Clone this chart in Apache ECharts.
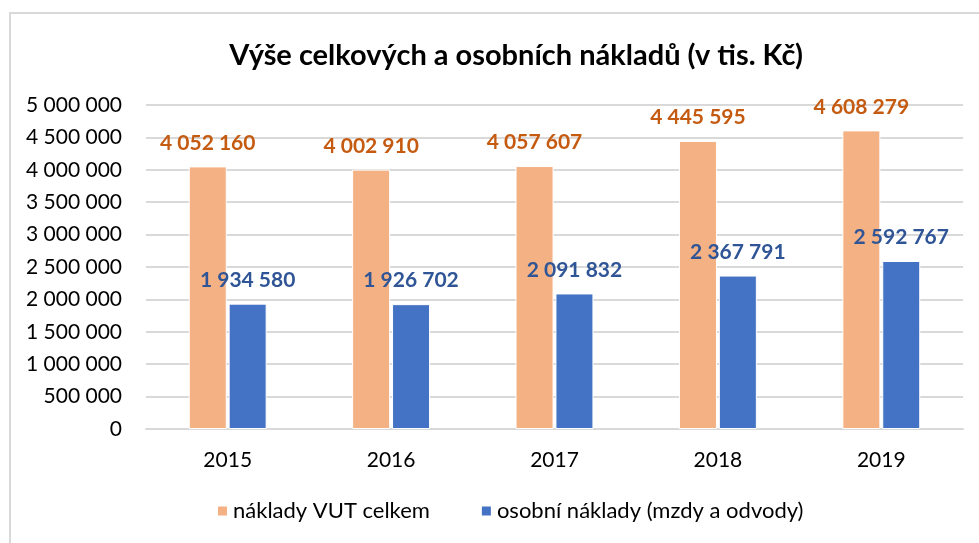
<!DOCTYPE html>
<html>
<head>
<meta charset="utf-8">
<script src="https://cdn.jsdelivr.net/npm/echarts@6/dist/echarts.min.js"></script>
<style>
  html, body { margin: 0; padding: 0; background: #fff; }
  #main { width: 979px; height: 543px; }
</style>
</head>
<body>
<div id="main"></div>
<script>
// data
var years = ['2015', '2016', '2017', '2018', '2019'];
var celkem = [4052160, 4002910, 4057607, 4445595, 4608279];
var osobni = [1934580, 1926702, 2091832, 2367791, 2592767];
var seriesNames = ['náklady VUT celkem', 'osobní náklady (mzdy a odvody)'];

var font = 'Lato, "Open Sans", sans-serif';

function fmt(v) {
    return String(v).replace(/\B(?=(\d{3})+(?!\d))/g, ' ');
}

var myChart = echarts.init(document.getElementById('main'));

var option = {
    backgroundColor: '#fff',
    animation: false,
    graphic: [{
        type: 'rect',
        shape: { x: 10, y: 13, width: 1000, height: 600 },
        style: { fill: 'none', stroke: '#d9d9d9', lineWidth: 2 }
    }],
    title: {
        text: 'Výše celkových a osobních nákladů (v tis. Kč)',
        left: 511,
        textAlign: 'center',
        top: 36,
        textStyle: { fontFamily: font, fontSize: 29, fontWeight: 'bold', color: '#000' }
    },
    legend: {
        bottom: 16,
        left: 211,
        itemWidth: 11,
        itemHeight: 11,
        itemGap: 50,
        icon: 'rect',
        textStyle: { fontFamily: font, fontSize: 22, color: '#000' },
        data: seriesNames
    },
    grid: { left: 146, right: 16, top: 105, bottom: 114 },
    xAxis: {
        type: 'category',
        data: years,
        axisLine: { lineStyle: { color: '#d9d9d9', width: 2 } },
        axisTick: { show: false },
        axisLabel: { fontFamily: font, fontSize: 21, color: '#000', margin: 21 }
    },
    yAxis: {
        type: 'value',
        min: 0,
        max: 5000000,
        interval: 500000,
        axisLine: { show: false },
        axisTick: { show: false },
        splitLine: { lineStyle: { color: '#d9d9d9', width: 2 } },
        axisLabel: {
            fontFamily: font, fontSize: 21, color: '#000', margin: 24,
            formatter: fmt
        }
    },
    series: [
        {
            name: seriesNames[0],
            type: 'bar',
            data: celkem,
            barWidth: 38,
            barGap: '5%',
            itemStyle: { color: '#F4B183', borderColor: '#fff', borderWidth: 1 },
            label: {
                show: true, position: 'top', distance: 13,
                fontFamily: font, fontSize: 21, fontWeight: 'bold', color: '#C55A11',
                formatter: function (p) { return fmt(p.value); }
            }
        },
        {
            name: seriesNames[1],
            type: 'bar',
            data: osobni,
            barWidth: 38,
            itemStyle: { color: '#4472C4', borderColor: '#fff', borderWidth: 1 },
            label: {
                show: true, position: 'top', distance: 13,
                fontFamily: font, fontSize: 21, fontWeight: 'bold', color: '#2F5597',
                formatter: function (p) { return fmt(p.value); }
            }
        }
    ]
};

myChart.setOption(option);
</script>
</body>
</html>
